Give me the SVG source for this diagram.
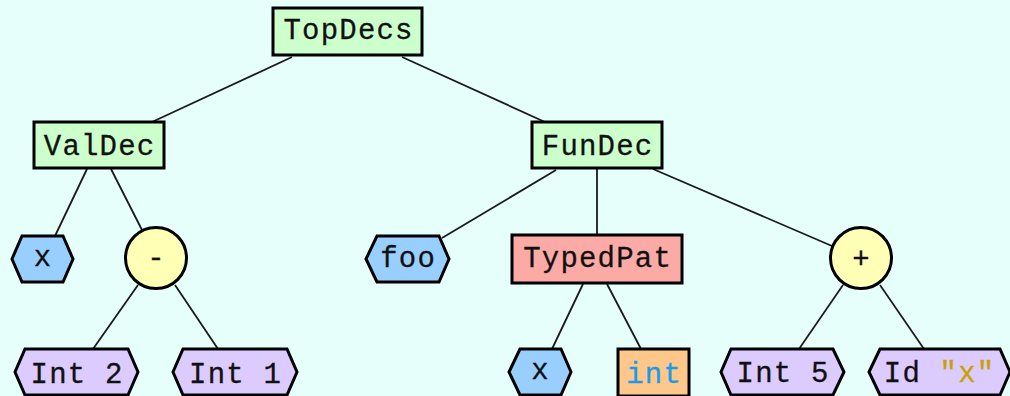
<svg xmlns="http://www.w3.org/2000/svg" width="1010" height="396" viewBox="0 0 1010 396">
<style>
.bg{fill:#e6fffb}
.n{stroke:#000;stroke-width:3;stroke-linejoin:miter}
.g{fill:#ccffcc}
.b{fill:#99cfff}
.y{fill:#ffffb5}
.l{fill:#dccbff}
.r{fill:#fcaaa5}
.o{fill:#ffc78a}
.e line{stroke:#1a1a1a;stroke-width:1.8}
text{font-family:"Liberation Mono","DejaVu Sans Mono",monospace;font-size:29px;letter-spacing:1.2px;text-anchor:middle;fill:#111;stroke:#111;stroke-width:0.3}
.s{letter-spacing:0}
</style>
<rect class="bg" x="0" y="0" width="1010" height="396"/>
<g id="edges" class="e">
<line x1="292" y1="57" x2="152" y2="122"/>
<line x1="402" y1="57" x2="545" y2="122"/>
<line x1="87" y1="169" x2="55" y2="236"/>
<line x1="111" y1="169" x2="142" y2="230"/>
<line x1="138" y1="285" x2="93" y2="349"/>
<line x1="175" y1="285" x2="218" y2="349"/>
<line x1="556" y1="170" x2="442" y2="238"/>
<line x1="597" y1="168" x2="597" y2="235"/>
<line x1="653" y1="169" x2="832" y2="246"/>
<line x1="583" y1="284" x2="552" y2="349"/>
<line x1="607" y1="284" x2="641" y2="349"/>
<line x1="843" y1="285" x2="799" y2="349"/>
<line x1="880" y1="285" x2="924" y2="349"/>
</g>
<g id="TopDecs"><rect class="n g" x="273" y="8" width="149" height="47"/><text x="348.6" y="39">TopDecs</text></g>
<g id="ValDec"><rect class="n g" x="34" y="122" width="130" height="46"/><text x="99.6" y="155">ValDec</text></g>
<g id="FunDec"><rect class="n g" x="532" y="122" width="130" height="46"/><text x="597.6" y="155">FunDec</text></g>
<g id="x1"><polygon class="n b" points="12,259 22,236 63,236 73,259 63,282 22,282"/><text x="43.1" y="266">x</text></g>
<g id="minus"><circle class="n y" cx="156" cy="258" r="30.5"/><text class="s" x="156" y="267">-</text></g>
<g id="int2"><polygon class="n l" points="15,372 25,349 128,349 138,372 128,395 25,395"/><text x="77.1" y="383">Int 2</text></g>
<g id="int1"><polygon class="n l" points="173,372 183,349 287,349 297,372 287,395 183,395"/><text x="235.6" y="383">Int 1</text></g>
<g id="foo"><polygon class="n b" points="366,259 377,236 439,236 449,259 439,282 377,282"/><text x="408.1" y="267">foo</text></g>
<g id="TypedPat"><rect class="n r" x="512" y="235" width="170" height="48"/><text x="597.6" y="267">TypedPat</text></g>
<g id="plus"><circle class="n y" cx="861" cy="258" r="30.5"/><text class="s" x="861" y="268">+</text></g>
<g id="x2"><polygon class="n b" points="509,372 520,349 561,349 571,372 561,395 520,395"/><text x="540.6" y="379">x</text></g>
<g id="int"><rect class="n o" x="618" y="349" width="71" height="47"/><text x="654.1" y="383" style="fill:#1e9be6;stroke:#1e9be6">int</text></g>
<g id="int5"><polygon class="n l" points="721,372 731,349 833,349 844,372 833,395 731,395"/><text x="783.1" y="382">Int 5</text></g>
<g id="idx"><polygon class="n l" points="869,372 880,349 1000,349 1010,372 1000,395 880,395"/><text x="939.6" y="382">Id <tspan style="fill:#c9a100;stroke:#c9a100">"x"</tspan></text></g>
</svg>
